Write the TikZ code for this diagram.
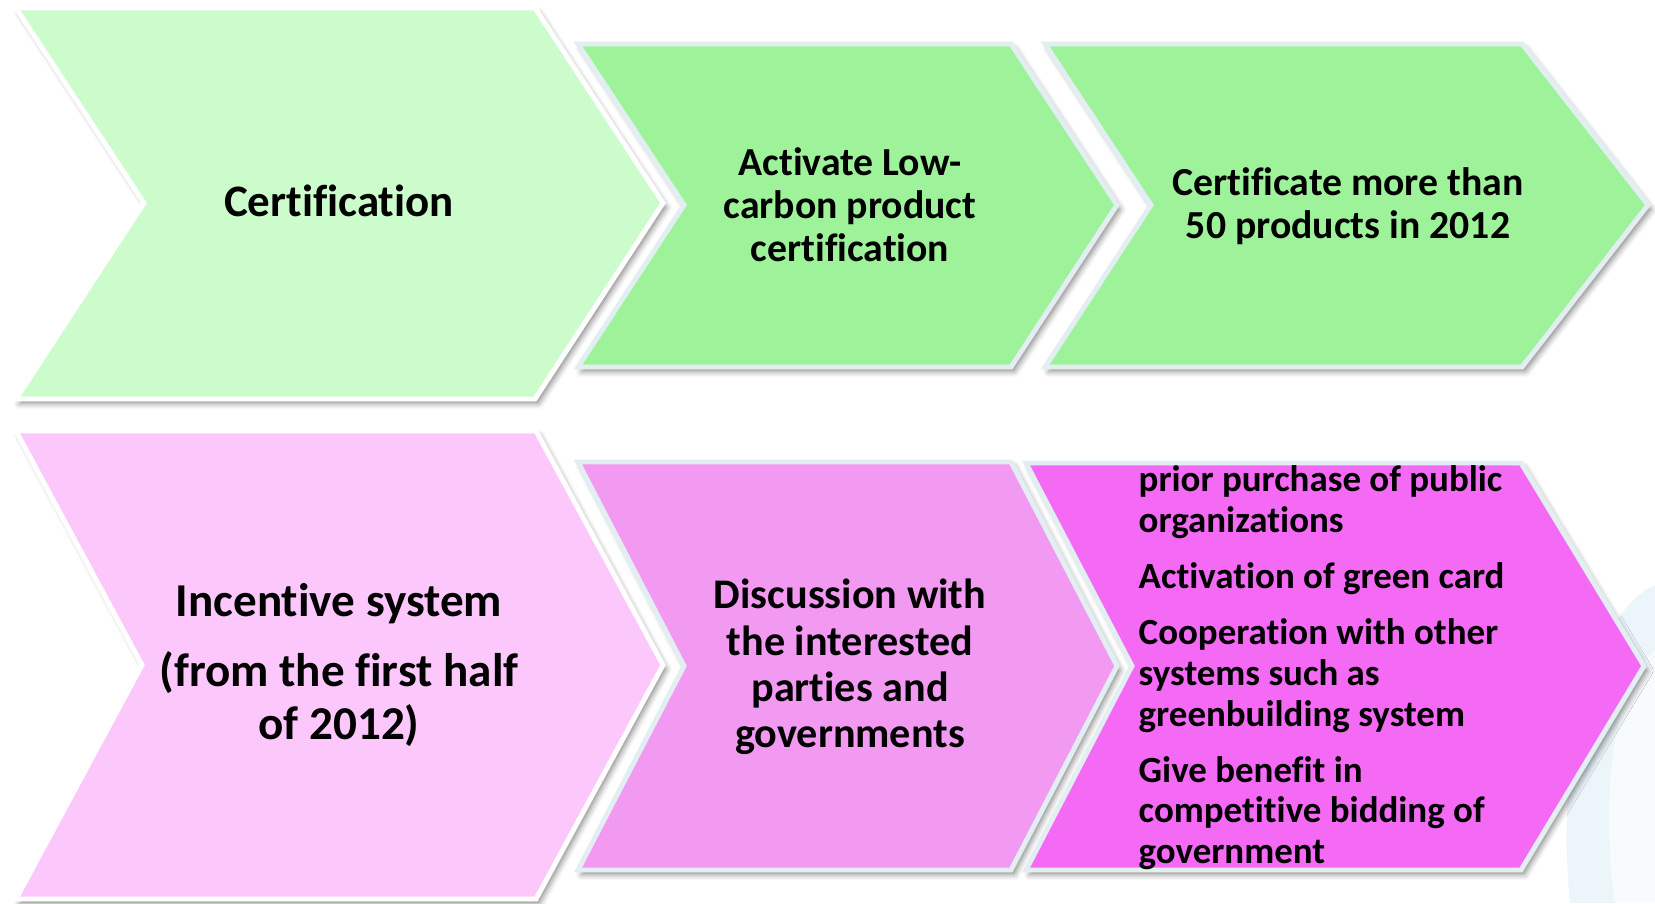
\documentclass[tikz,border=0pt]{standalone}
\usepackage{fontspec}
\setmainfont{Carlito}[Ligatures={NoCommon,NoContextual}, Contextuals=NoAlternate]
\usetikzlibrary{shadows.blur}
\definecolor{cert-pale}{HTML}{CCFCCC}
\definecolor{cert-mid}{HTML}{9EF39A}
\definecolor{inc-pale}{HTML}{FCC8FC}
\definecolor{inc-mid}{HTML}{F29AF2}
\definecolor{inc-deep}{HTML}{F46AF4}
\definecolor{edge-blue}{HTML}{E2EEF1}
\definecolor{swoosh}{HTML}{DCEFF6}

\begin{document}
\begin{tikzpicture}[x=0.01cm, y=-0.01cm,
    chev/.style={line width=1.4pt, line join=miter,
      blur shadow={shadow xshift=1pt, shadow yshift=-1.3pt,
        shadow blur radius=1.6pt, shadow opacity=45}},
    lead/.style={chev, draw=white},
    follow/.style={chev, draw=edge-blue},
    every node/.style={align=center, inner sep=0pt}]
    \useasboundingbox (0,0) rectangle (1655,903);
    % ---- faint swoosh in the lower right corner
    \fill[swoosh, opacity=0.55] (1655,585) .. controls (1590,615) and (1555,760) .. (1570,903) -- (1655,903) -- cycle;
    \fill[white, opacity=0.6] (1655,650) .. controls (1612,690) and (1600,800) .. (1615,903) -- (1655,903) -- cycle;
    % ---- Row 1: certification
    \draw[lead, fill=cert-pale]  (16,8) -- (535,8) -- (663,203) -- (535,399) -- (16,399) -- (144,203) -- cycle;
    \draw[follow, fill=cert-mid] (578,44) -- (1011,44) -- (1117,205) -- (1011,367) -- (578,367) -- (684,205) -- cycle;
    \draw[follow, fill=cert-mid] (1045,44) -- (1522,44) -- (1648,205) -- (1522,367) -- (1045,367) -- (1151,205) -- cycle;
    \node[font=\bfseries\fontsize{12.8}{15}\selectfont] (cert) at (339,201) {Certification};
    \node[font=\bfseries\fontsize{11.3}{12.2}\selectfont] (lowcarbon) at (850,205) {Activate Low-\\carbon product\\certification};
    \node[font=\bfseries\fontsize{11.3}{12.2}\selectfont] (fifty) at (1348,206) {Certificate more than\\50 products in 2012};
    % ---- Row 2: incentive system
    \draw[lead, fill=inc-pale]    (16,431) -- (536,431) -- (663,665) -- (536,899) -- (16,899) -- (142,665) -- cycle;
    \draw[follow, fill=inc-mid]   (578,462) -- (1011,462) -- (1117,666) -- (1011,870) -- (578,870) -- (684,666) -- cycle;
    \draw[follow, fill=inc-deep]  (1026,463) -- (1521,463) -- (1644,666) -- (1521,870) -- (1026,870) -- (1132,666) -- cycle;
    \node[font=\bfseries\fontsize{13.4}{15}\selectfont] (incentive) at (339,665) {Incentive system\\[5pt](from the first half\\of 2012)};
    \node[font=\bfseries\fontsize{12}{13.2}\selectfont] (discussion) at (850,667) {Discussion with\\the interested\\parties and\\governments};
    \node[font=\bfseries\fontsize{10.5}{11.6}\selectfont, align=left, anchor=west] (measures) at (1138,668)
      {prior purchase of public\\organizations\\[4.3pt]
       Activation of green card\\[4.3pt]
       Cooperation with other\\systems such as\\greenbuilding system\\[4.3pt]
       Give benefit in\\competitive bidding of\\government};
\end{tikzpicture}
\end{document}
